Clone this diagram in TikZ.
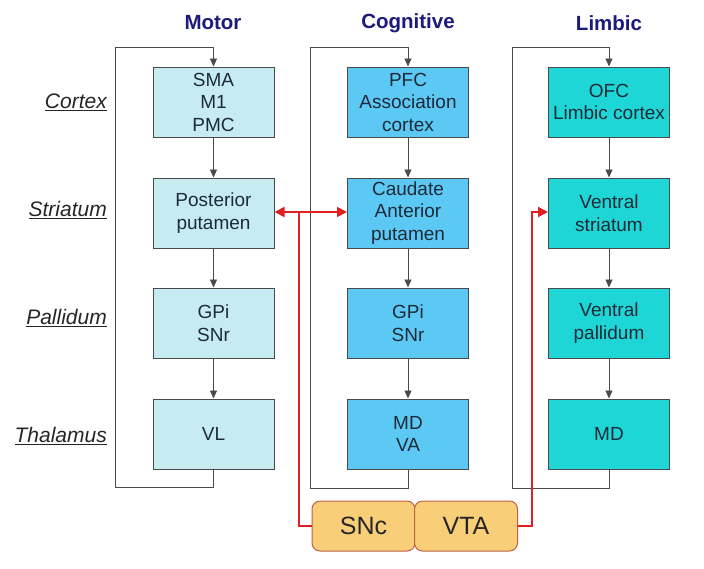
\documentclass[tikz,border=0pt]{standalone}
\usepackage{fontspec}
\setmainfont{Liberation Sans}
\usetikzlibrary{arrows.meta}
\definecolor{motorfill}{HTML}{C6ECF1}
\definecolor{cogfill}{HTML}{5CC9F5}
\definecolor{limfill}{HTML}{1ED6D6}
\definecolor{boxtext}{HTML}{1E2A38}
\definecolor{titlecol}{HTML}{1C1A7A}
\definecolor{loopcol}{HTML}{4A4A4A}
\definecolor{dacol}{HTML}{E02020}
\definecolor{nucfill}{HTML}{F8CF78}
\definecolor{nucdraw}{HTML}{C0604A}
\tikzset{
  x=1pt, y=-1pt,
  region/.style={draw=loopcol, line width=1pt, minimum width=121pt, minimum height=70pt,
    align=center, font=\fontsize{19}{22.5}\selectfont, text=boxtext, inner sep=0pt},
  motorbox/.style={region, fill=motorfill},
  cogbox/.style={region, fill=cogfill},
  limbox/.style={region, fill=limfill},
  flow/.style={draw=loopcol, line width=0.9pt, -{Triangle[length=8pt,width=7pt]}},
  loopline/.style={draw=loopcol, line width=0.9pt},
  dopa/.style={draw=dacol, line width=1.8pt},
  nucleus/.style={draw=nucdraw, line width=1pt, fill=nucfill, rounded corners=8pt,
    minimum width=103pt, minimum height=50pt, inner sep=0pt, font=\fontsize{25}{28}\selectfont, text=black!85},
  rowlabel/.style={anchor=east, font=\itshape\fontsize{21}{24}\selectfont, text=black!85, inner sep=0pt},
  coltitle/.style={font=\bfseries\fontsize{20.5}{24}\selectfont, text=titlecol, inner sep=0pt}
}
\newcommand{\ul}[1]{\underline{#1}}
\begin{document}
\begin{tikzpicture}
\useasboundingbox (0,0) rectangle (704,568);
\fill[white] (0,0) rectangle (704,568);

% column titles
\node[coltitle] (tmotor) at (213,23) {Motor};
\node[coltitle] (tcog) at (408,23) {Cognitive};
\node[coltitle] (tlim) at (609,23) {Limbic};

% row labels
\node[rowlabel] (lcx) at (107,102) {\ul{Cortex}};
\node[rowlabel] (lst) at (107,210) {\ul{Striatum}};
\node[rowlabel] (lpa) at (107,318) {\ul{Pallidum}};
\node[rowlabel] (lth) at (107,436) {\ul{Thalamus}};

% motor column
\node[motorbox] (m1) at (213.5,102) {SMA\\M1\\PMC};
\node[motorbox] (m2) at (213.5,213) {Posterior\\putamen};
\node[motorbox] (m3) at (213.5,323) {GPi\\SNr};
\node[motorbox] (m4) at (213.5,434) {VL};

% cognitive column
\node[cogbox] (c1) at (408,102) {PFC\\Association\\cortex};
\node[cogbox] (c2) at (408,213) {Caudate\\Anterior\\putamen};
\node[cogbox] (c3) at (408,323) {GPi\\SNr};
\node[cogbox] (c4) at (408,434) {MD\\VA};

% limbic column
\node[limbox] (l1) at (609,102) {OFC\\Limbic cortex};
\node[limbox] (l2) at (609,213) {Ventral\\striatum};
\node[limbox] (l3) at (609,323) {Ventral\\pallidum};
\node[limbox] (l4) at (609,434) {MD};

% vertical flows
\foreach \c in {m,c,l}{
  \draw[flow] (\c1) -- (\c2);
  \draw[flow] (\c2) -- (\c3);
  \draw[flow] (\c3) -- (\c4);
}

% loops
\coordinate (mbl) at (115,487);
\coordinate (mtl) at (115,47);
\coordinate (mtop) at (213.5,47);
\draw[loopline] (m4.south) |- (mbl) -- (mtl) -- (mtop);
\draw[flow] (mtop) -- (m1.north);
\coordinate (cbl) at (310,488);
\coordinate (ctl) at (310,47);
\coordinate (ctop) at (408,47);
\draw[loopline] (c4.south) |- (cbl) -- (ctl) -- (ctop);
\draw[flow] (ctop) -- (c1.north);
\coordinate (lbl) at (512,488);
\coordinate (ltl) at (512,47);
\coordinate (ltop) at (609,47);
\draw[loopline] (l4.south) |- (lbl) -- (ltl) -- (ltop);
\draw[flow] (ltop) -- (l1.north);

% dopaminergic nuclei
\node[nucleus] (snc) at (363.5,526) {SNc};
\node[nucleus] (vta) at (466,526) {VTA};

% dopaminergic projections
\coordinate (sj) at (299,212);
\coordinate (vj) at (532,212);
\draw[dopa] (snc.west) -| (sj);
\draw[dopa, {Triangle[length=10pt,width=10pt]}-{Triangle[length=10pt,width=10pt]}] (m2.east |- sj) -- (c2.west |- sj);
\draw[dopa, -{Triangle[length=10pt,width=10pt]}] (vta.east) -| (vj) -- (l2.west |- vj);
\end{tikzpicture}
\end{document}
